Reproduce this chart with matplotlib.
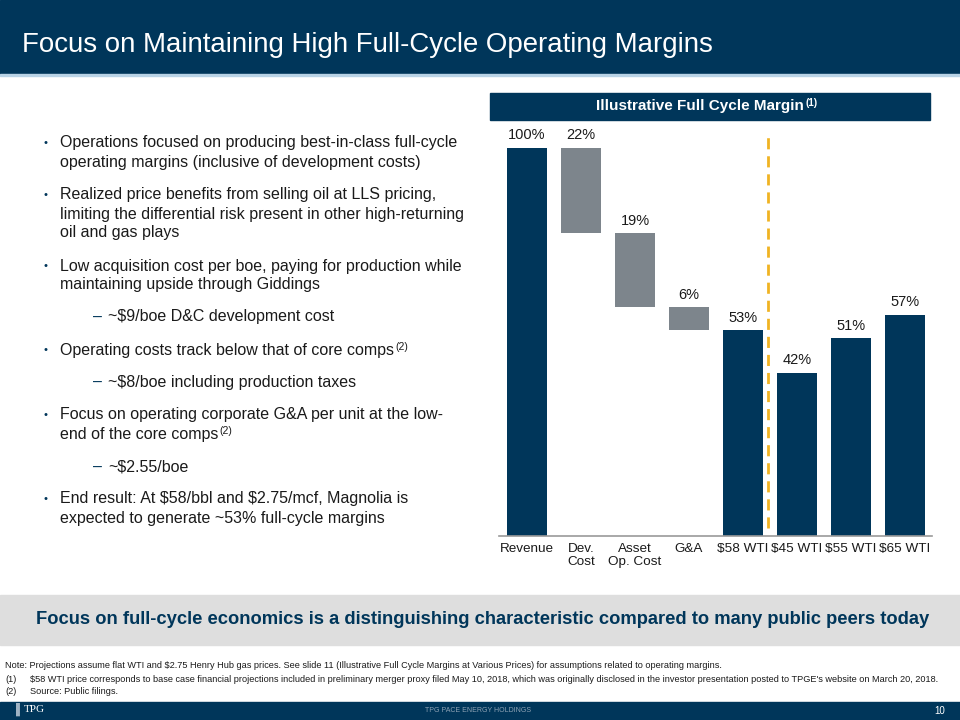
import numpy as np
import matplotlib.pyplot as plt
from matplotlib.patches import Rectangle

plt.rcParams['font.family'] = ['Liberation Sans', 'DejaVu Sans']
plt.rcParams['text.parse_math'] = False

NAVY = '#00365A'
GREY = '#7D858C'
GOLD = '#F0B323'
INK = '#1a1a1a'

# chart data
categories = ['Revenue', 'Dev.\nCost', 'Asset\nOp. Cost', 'G&A',
              '$58 WTI', '$45 WTI', '$55 WTI', '$65 WTI']
values = [100, 22, 19, 6, 53, 42, 51, 57]
is_cost = [False, True, True, True, False, False, False, False]

# (level, lines, superscript on last line)
bullets = [
    (0, ['Operations focused on producing best-in-class full-cycle',
         'operating margins (inclusive of development costs)'], ''),
    (0, ['Realized price benefits from selling oil at LLS pricing,',
         'limiting the differential risk present in other high-returning',
         'oil and gas plays'], ''),
    (0, ['Low acquisition cost per boe, paying for production while',
         'maintaining upside through Giddings'], ''),
    (1, ['~$9/boe D&C development cost'], ''),
    (0, ['Operating costs track below that of core comps'], '(2)'),
    (1, ['~$8/boe including production taxes'], ''),
    (0, ['Focus on operating corporate G&A per unit at the low-',
         'end of the core comps'], '(2)'),
    (1, ['~$2.55/boe'], ''),
    (0, ['End result: At $58/bbl and $2.75/mcf, Magnolia is',
         'expected to generate ~53% full-cycle margins'], ''),
]
bullet_y = [143, 195, 266, 317, 350, 382, 415, 467, 499]

notes = [
    ('', 'Note: Projections assume flat WTI and $2.75 Henry Hub gas prices. See slide 11 (Illustrative Full Cycle Margins at Various Prices) for assumptions related to operating margins.'),
    ('(1)', "$58 WTI price corresponds to base case financial projections included in preliminary merger proxy filed May 10, 2018, which was originally disclosed in the investor presentation posted to TPGE's website on March 20, 2018."),
    ('(2)', 'Source: Public filings.'),
]

W, H = 960, 720
fig = plt.figure(figsize=(9.6, 7.2), dpi=100)
renderer = fig.canvas.get_renderer()


def fx(x):
    return x / W


def fy(y):
    return 1 - y / H


def sup_after(t, s, size, **kw):
    # small raised text right after text t
    bb = t.get_window_extent(renderer)
    fig.text(fx(bb.x1 + 1.5), (bb.y1 + 1) / H, s, fontsize=size, va='top', ha='left', **kw)


# title bar
fig.patches.append(Rectangle((0, fy(74)), 1, 74 / H, transform=fig.transFigure,
                             color=NAVY, zorder=0))
fig.patches.append(Rectangle((0, fy(76)), 1, 2 / H, transform=fig.transFigure,
                             color='#B9D3E6', zorder=0))
fig.text(fx(22), fy(45), 'Focus on Maintaining High Full-Cycle Operating Margins',
         color='white', fontsize=19.9, va='center', ha='left')

# chart header
fig.patches.append(Rectangle((fx(490), fy(120)), 440 / W, 27 / H,
                             transform=fig.transFigure, color=NAVY, zorder=0))
hdr = fig.text(fx(596), fy(106), 'Illustrative Full Cycle Margin',
               color='white', fontsize=11, fontweight='bold', ha='left', va='center')
sup_after(hdr, '(1)', 7, color='white', fontweight='bold')

# left bullets
for (lvl, lines, sup), y in zip(bullets, bullet_y):
    if lvl == 0:
        fig.text(fx(44), fy(y), '\u2022', color=NAVY, fontsize=8, va='center', ha='left')
        tx = 60
    else:
        fig.text(fx(93), fy(y), '\u2013', color=NAVY, fontsize=11.5, va='center', ha='left')
        tx = 108
    for i, line in enumerate(lines):
        t = fig.text(fx(tx), fy(y + 19 * i), line, fontsize=11.5, va='center',
                     ha='left', color=INK)
    if sup:
        sup_after(t, sup, 7.5, color=INK)

# waterfall chart
ax = fig.add_axes([fx(499), fy(536), (932 - 499) / W, (536 - 93) / H])
x = np.arange(len(categories))
bottoms = []
level = values[0]
for v, c in zip(values, is_cost):
    if c:
        level -= v
        bottoms.append(level)
    else:
        bottoms.append(0)
colors = [GREY if c else NAVY for c in is_cost]
bars = ax.bar(x, values, bottom=bottoms, width=0.74, color=colors)
for b, v in zip(bars, values):
    ax.annotate(f'{v}%', (b.get_x() + b.get_width() / 2, b.get_y() + b.get_height()),
                xytext=(0, 4), textcoords='offset points', ha='center', va='bottom',
                fontsize=10.5, color=INK)
ax.plot([4.46, 4.46], [2.1, 103.4], color=GOLD, lw=2, ls=(0, (4, 2.5)))
ax.set_xlim(-0.52, 7.5)
ax.set_ylim(0, (536 - 93) / 3.88)
ax.set_xticks(x)
ax.set_xticklabels(categories, fontsize=9.7, linespacing=1.15, color=INK)
ax.tick_params(axis='x', length=0, pad=5)
ax.set_yticks([])
for s in ['top', 'right', 'left']:
    ax.spines[s].set_visible(False)
ax.spines['bottom'].set_color('#9a9a9a')
ax.spines['bottom'].set_linewidth(1.2)
ax.patch.set_alpha(0)

# highlight box
fig.patches.append(Rectangle((0, fy(645)), 1, 50 / H, transform=fig.transFigure,
                             color='#DEDEDE', zorder=0))
fig.text(fx(483), fy(620),
         'Focus on full-cycle economics is a distinguishing characteristic compared to many public peers today',
         color=NAVY, fontsize=13.2, fontweight='bold', ha='center', va='center')

# footnotes
for (tag, txt), y in zip(notes, [666, 679, 691]):
    if tag:
        fig.text(fx(5), fy(y), tag, fontsize=6.6, va='center', ha='left', color=INK)
        fig.text(fx(30), fy(y), txt, fontsize=6.6, va='center', ha='left', color=INK)
    else:
        fig.text(fx(5), fy(y), txt, fontsize=6.6, va='center', ha='left', color=INK)

# footer bar
fig.patches.append(Rectangle((0, 0), 1, 18 / H, transform=fig.transFigure,
                             color=NAVY, zorder=0))
fig.text(fx(24), fy(709), 'TPG', color='white', fontsize=8, family='Liberation Serif',
         va='center', ha='left')
fig.text(fx(16), fy(709), '\u258C', color='#9fb3c4', fontsize=8, va='center', ha='left')
fig.text(fx(478), fy(711), 'TPG PACE ENERGY HOLDINGS', color='#8fa3b5', fontsize=5,
         va='center', ha='center')
fig.text(fx(940), fy(711), '10', color='white', fontsize=7, va='center', ha='center')

fig.savefig('out.png', dpi=100)
